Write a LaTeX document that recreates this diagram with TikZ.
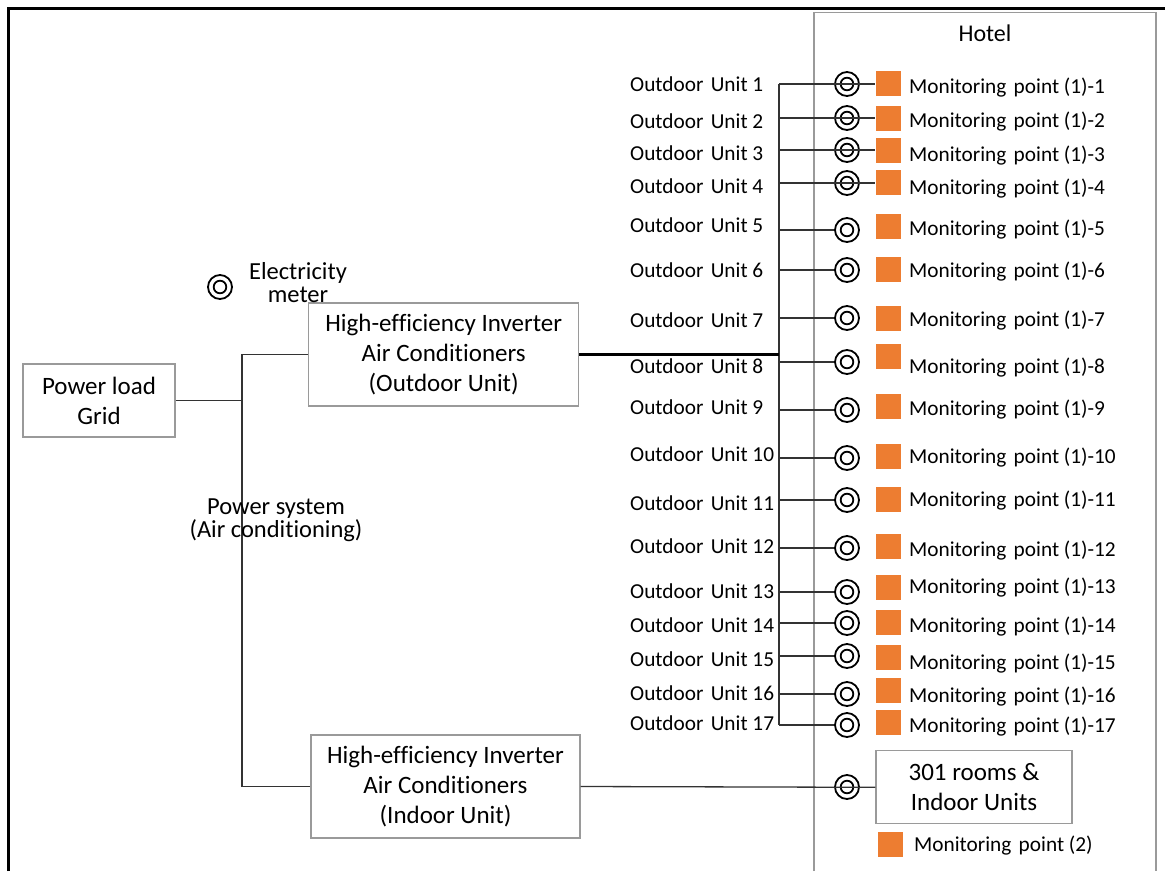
\documentclass[tikz,border=0pt]{standalone}
\usepackage{fontspec}
\setmainfont{Carlito}[Ligatures=NoCommon]
\definecolor{boxgray}{HTML}{9A9A9A}
\definecolor{mporange}{HTML}{ED7D31}
\definecolor{wirecol}{HTML}{333333}
\begin{document}
\begin{tikzpicture}[x=1pt,y=-1pt,
  box/.style={draw=boxgray, line width=1.1pt, align=center, inner sep=0pt,
    font=\fontsize{25}{30}\selectfont},
  lbl/.style={inner sep=0pt, anchor=base west, font=\fontsize{21.3}{24}\selectfont},
  big/.style={inner sep=0pt, align=center, font=\fontsize{24.5}{21.5}\selectfont},
  meter/.style={circle, draw=black, line width=1.8pt, minimum size=24pt, inner sep=0pt},
  inner/.style={draw=black, line width=1.8pt},
  mp/.style={fill=mporange, minimum size=25pt, inner sep=0pt},
  wire/.style={draw=wirecol, line width=1.3pt}]
\useasboundingbox (0,0) rectangle (1165,871);
% outer frame
\draw[line width=2.7pt] (8.5,871) -- (8.5,8.5) -- (1165,8.5);
% hotel box
\draw[boxgray, line width=1.2pt] (814,871) -- (814,12.5) -- (1156,12.5) -- (1156,871);
\node[inner sep=0pt, font=\fontsize{24}{30}\selectfont] (hotel) at (985,33) {Hotel};

% main boxes
\node[box, minimum width=152pt, minimum height=73pt] (grid) at (99,400.5) {Power load\\Grid};
\node[box, minimum width=270pt, minimum height=103pt] (outAC) at (443.7,354.5)
  {High-efficiency Inverter\\Air Conditioners\\(Outdoor Unit)};
\node[box, minimum width=269pt, minimum height=103pt] (inAC) at (445.5,786.5)
  {High-efficiency Inverter\\Air Conditioners\\(Indoor Unit)};
\node[box, minimum width=196pt, minimum height=73pt] (rooms) at (974,787.3)
  {301 rooms \&\\Indoor Units};

% electricity meter legend
\node[meter] (em) at (220,287) {};
\draw[inner] (em.center) circle (6.3pt);
\node[big, font=\fontsize{24.5}{23}\selectfont] (emt) at (298,283) {Electricity\\meter};

% power system label
\coordinate (jt) at (242,354.5);
\coordinate (jb) at (242,786.5);
\draw[wire] (grid.east) -- (grid.east -| jt);
\draw[wire] (outAC.west) -- (jt) -- (jb) -- (inAC.west);
\node[big] (ps) at (276,520) {Power system\\(Air conditioning)};

% bus
\coordinate (busTop) at (779,84);
\coordinate (busBot) at (779,725);
\draw[wirecol, line width=2pt] (busTop) -- (busBot);
\draw[black, line width=3pt] (outAC.east) -- (outAC.east -| busTop);

% rows
\foreach \i/\ly/\ty/\sy/\py in {
  1/84/84/83/86, 2/118/121/118/120, 3/150/153/150/154, 4/183/186/182/187,
  5/230/225/226/228, 6/270/270/269/270, 7/318/320/318/319, 8/362/366/356/366,
  9/410/407/406/408, 10/458/454/456/456, 11/500/503/499/499, 12/548/546/546/549,
  13/592/591/587/586, 14/623/625/622/625, 15/656/659/657/662, 16/694/693/690/695,
  17/725/723/722/725}{
  \node[lbl] (u\i) at (630,\ty+7) {Outdoor\hspace{0.12em} Unit \i};
  \node[meter] (m\i) at (847,\ly) {};
  \draw[inner] (m\i.center) circle (6.3pt);
  \node[mp] (s\i) at (888,\sy) {};
  \node[lbl] (p\i) at (909,\py+7) {Monitoring\hspace{0.12em} point (1)-\i};
  \ifnum\i<5
    \draw[wire] (busTop |- m\i) -- (m\i -| s\i.west);
  \else
    \draw[wire] (busTop |- m\i) -- (m\i.west);
  \fi
}

% indoor meter
\node[meter] (mr) at (847,787) {};
\draw[inner] (mr.center) circle (6.3pt);
\draw[wire] (inAC.east) -- (rooms.west);
\node[mp] (s18) at (890,844) {};
\node[lbl] (p18) at (914,851) {Monitoring\hspace{0.12em} point (2)};
\end{tikzpicture}
\end{document}
